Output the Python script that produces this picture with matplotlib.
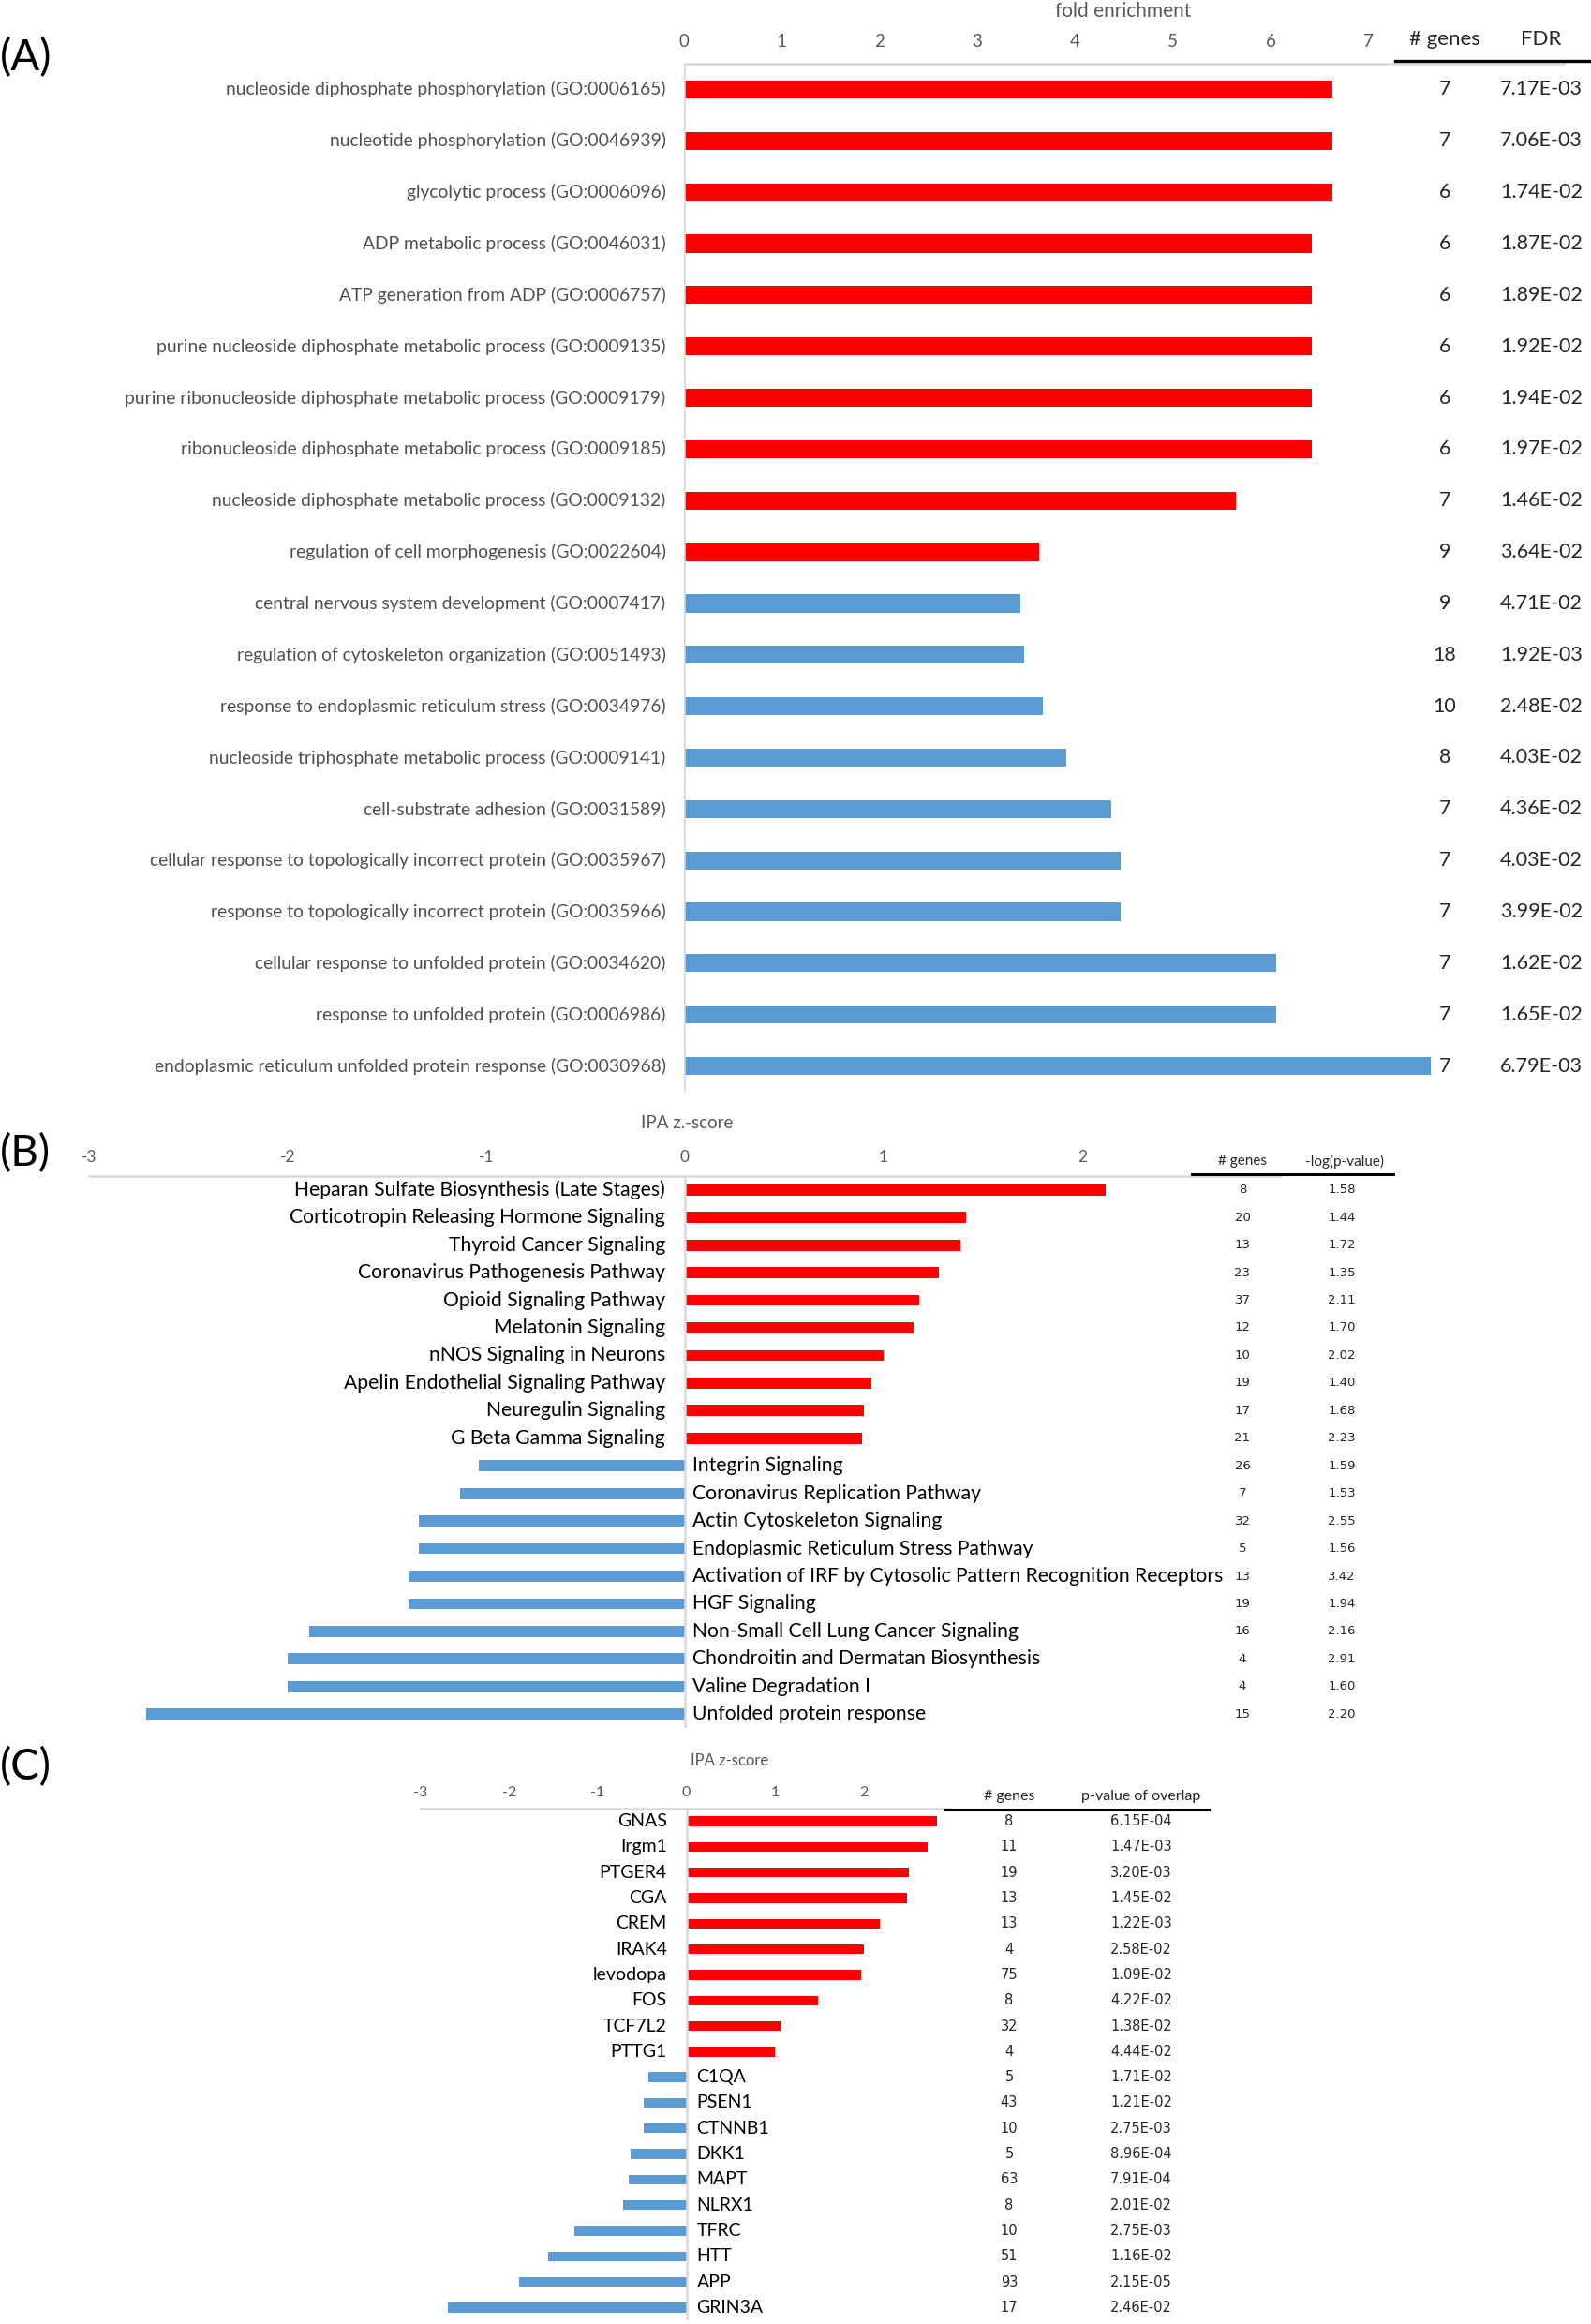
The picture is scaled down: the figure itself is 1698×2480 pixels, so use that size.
import matplotlib
matplotlib.use("Agg")
import matplotlib.pyplot as plt
from matplotlib.lines import Line2D
from matplotlib.transforms import blended_transform_factory

plt.rcParams['font.family'] = ['Lato', 'DejaVu Sans']

# --- Panel A: GO enrichment ---
a_terms = [
    "nucleoside diphosphate phosphorylation (GO:0006165)",
    "nucleotide phosphorylation (GO:0046939)",
    "glycolytic process (GO:0006096)",
    "ADP metabolic process (GO:0046031)",
    "ATP generation from ADP (GO:0006757)",
    "purine nucleoside diphosphate metabolic process (GO:0009135)",
    "purine ribonucleoside diphosphate metabolic process (GO:0009179)",
    "ribonucleoside diphosphate metabolic process (GO:0009185)",
    "nucleoside diphosphate metabolic process (GO:0009132)",
    "regulation of cell morphogenesis (GO:0022604)",
    "central nervous system development (GO:0007417)",
    "regulation of cytoskeleton organization (GO:0051493)",
    "response to endoplasmic reticulum stress (GO:0034976)",
    "nucleoside triphosphate metabolic process (GO:0009141)",
    "cell-substrate adhesion (GO:0031589)",
    "cellular response to topologically incorrect protein (GO:0035967)",
    "response to topologically incorrect protein (GO:0035966)",
    "cellular response to unfolded protein (GO:0034620)",
    "response to unfolded protein (GO:0006986)",
    "endoplasmic reticulum unfolded protein response (GO:0030968)",
]
a_fold = [6.63, 6.63, 6.63, 6.42, 6.42, 6.42, 6.42, 6.42, 5.65, 3.63,
          3.44, 3.48, 3.67, 3.91, 4.37, 4.47, 4.47, 6.06, 6.06, 7.64]
a_genes = [7, 7, 6, 6, 6, 6, 6, 6, 7, 9, 9, 18, 10, 8, 7, 7, 7, 7, 7, 7]
a_fdr = ["7.17E-03", "7.06E-03", "1.74E-02", "1.87E-02", "1.89E-02",
         "1.92E-02", "1.94E-02", "1.97E-02", "1.46E-02", "3.64E-02",
         "4.71E-02", "1.92E-03", "2.48E-02", "4.03E-02", "4.36E-02",
         "4.03E-02", "3.99E-02", "1.62E-02", "1.65E-02", "6.79E-03"]
a_dir = ["up"] * 10 + ["down"] * 10

# --- Panel B: IPA canonical pathways ---
b_paths = [
    "Heparan Sulfate Biosynthesis (Late Stages)",
    "Corticotropin Releasing Hormone Signaling",
    "Thyroid Cancer Signaling",
    "Coronavirus Pathogenesis Pathway",
    "Opioid Signaling Pathway",
    "Melatonin Signaling",
    "nNOS Signaling in Neurons",
    "Apelin Endothelial Signaling Pathway",
    "Neuregulin Signaling",
    "G Beta Gamma Signaling",
    "Integrin Signaling",
    "Coronavirus Replication Pathway",
    "Actin Cytoskeleton Signaling",
    "Endoplasmic Reticulum Stress Pathway",
    "Activation of IRF by Cytosolic Pattern Recognition Receptors",
    "HGF Signaling",
    "Non-Small Cell Lung Cancer Signaling",
    "Chondroitin and Dermatan Biosynthesis",
    "Valine Degradation I",
    "Unfolded protein response",
]
b_z = [2.12, 1.415, 1.386, 1.276, 1.18, 1.15, 1.0, 0.94, 0.90, 0.89,
       -1.04, -1.13, -1.34, -1.34, -1.39, -1.39, -1.89, -2.0, -2.0, -2.71]
b_genes = [8, 20, 13, 23, 37, 12, 10, 19, 17, 21,
           26, 7, 32, 5, 13, 19, 16, 4, 4, 15]
b_logp = ["1.58", "1.44", "1.72", "1.35", "2.11", "1.70", "2.02", "1.40", "1.68", "2.23",
          "1.59", "1.53", "2.55", "1.56", "3.42", "1.94", "2.16", "2.91", "1.60", "2.20"]

# --- Panel C: upstream regulators ---
c_regs = ["GNAS", "Irgm1", "PTGER4", "CGA", "CREM", "IRAK4", "levodopa", "FOS",
          "TCF7L2", "PTTG1", "C1QA", "PSEN1", "CTNNB1", "DKK1", "MAPT", "NLRX1",
          "TFRC", "HTT", "APP", "GRIN3A"]
c_z = [2.83, 2.72, 2.51, 2.49, 2.18, 2.00, 1.97, 1.49, 1.06, 1.00,
       -0.43, -0.48, -0.48, -0.63, -0.65, -0.71, -1.26, -1.56, -1.89, -2.69]
c_genes = [8, 11, 19, 13, 13, 4, 75, 8, 32, 4, 5, 43, 10, 5, 63, 8, 10, 51, 93, 17]
c_pval = ["6.15E-04", "1.47E-03", "3.20E-03", "1.45E-02", "1.22E-03", "2.58E-02",
          "1.09E-02", "4.22E-02", "1.38E-02", "4.44E-02", "1.71E-02", "1.21E-02",
          "2.75E-03", "8.96E-04", "7.91E-04", "2.01E-02", "2.75E-03", "1.16E-02",
          "2.15E-05", "2.46E-02"]

RED = "#FF0000"
BLUE = "#5B9BD5"
GRID = "#D9D9D9"
GREY_TXT = "#595959"

W, H = 1699, 2480
fig = plt.figure(figsize=(W / 100, H / 100), dpi=100)


def px_axes(left, top, right, bottom):
    return fig.add_axes([left / W, 1 - bottom / H, (right - left) / W, (bottom - top) / H])


def ftext(x, y, s, **kw):
    return fig.text(x / W, 1 - y / H, s, **kw)


def hline(x0, x1, y, lw=2.2, color="black"):
    fig.add_artist(Line2D([x0 / W, x1 / W], [1 - y / H, 1 - y / H],
                          transform=fig.transFigure, color=color, lw=lw))


def style_axis(ax, xlim, ticks, tick_size, pad):
    ax.set_xlim(*xlim)
    ax.set_ylim(19.5, -0.5)
    ax.xaxis.set_ticks_position("top")
    ax.set_xticks(ticks)
    ax.set_xticklabels([str(t) for t in ticks])
    ax.tick_params(axis="x", length=0, pad=pad, labelsize=tick_size, labelcolor=GREY_TXT)
    ax.set_yticks([])
    for s in ["right", "bottom", "left"]:
        ax.spines[s].set_visible(False)
    ax.spines["top"].set_color(GRID)
    ax.spines["top"].set_linewidth(1.8)
    ax.patch.set_alpha(0)


# ---------------- Panel A ----------------
axA = px_axes(730, 68, 1669, 1165)
ya = list(range(len(a_terms)))
colA = [RED if d == "up" else BLUE for d in a_dir]
axA.barh(ya, a_fold, height=0.35, color=colA)
style_axis(axA, (0, 9), list(range(0, 8)), 13.5, 11)
axA.axvline(0, color=GRID, lw=1.8)
for i, t in enumerate(a_terms):
    axA.annotate(t, xy=(0, i), xytext=(-14, 0), textcoords="offset points",
                 ha="right", va="center", fontsize=13.9, color="#505050")
trA = blended_transform_factory(fig.transFigure, axA.transData)
for i in ya:
    axA.text(1542 / W, i, str(a_genes[i]), transform=trA, ha="center", va="center",
             fontsize=15.5, color="#262626")
    axA.text(1645 / W, i, a_fdr[i], transform=trA, ha="center", va="center",
             fontsize=15.5, color="#262626")
ftext(1199, 12, "fold enrichment", ha="center", va="center", fontsize=15, color=GREY_TXT)
ftext(1542, 42, "# genes", ha="center", va="center", fontsize=16, color="#262626")
ftext(1645, 42, "FDR", ha="center", va="center", fontsize=16, color="#262626")
hline(1489, 1699, 65, lw=2.4)
ftext(0, 62, "(A)", ha="left", va="center", fontsize=33)

# ---------------- Panel B ----------------
axB = px_axes(731 - 3 * 212, 1255, 731 + 3 * 212, 1844)
yb = list(range(len(b_paths)))
colB = [RED if v > 0 else BLUE for v in b_z]
axB.barh(yb, b_z, height=0.4, color=colB)
style_axis(axB, (-3, 3), [-3, -2, -1, 0, 1, 2], 12.5, 9)
axB.axvline(0, color=GRID, lw=1.8)
for i, (p, v) in enumerate(zip(b_paths, b_z)):
    if v > 0:
        axB.annotate(p, xy=(0, i), xytext=(-15, 0), textcoords="offset points",
                     ha="right", va="center", fontsize=15.2, color="black")
    else:
        axB.annotate(p, xy=(0, i), xytext=(6, 0), textcoords="offset points",
                     ha="left", va="center", fontsize=15.2, color="black")
trB = blended_transform_factory(fig.transFigure, axB.transData)
for i in yb:
    axB.text(1326 / W, i, str(b_genes[i]), transform=trB, ha="center", va="center",
             fontsize=9.5, color="#262626", family="DejaVu Sans")
    axB.text(1432 / W, i, b_logp[i], transform=trB, ha="center", va="center",
             fontsize=9.5, color="#262626", family="DejaVu Sans")
ftext(733, 1198, "IPA z.-score", ha="center", va="center", fontsize=13.5, color=GREY_TXT)
ftext(1326, 1239, "# genes", ha="center", va="center", fontsize=11, color="#262626")
ftext(1435, 1239, "-log(p-value)", ha="center", va="center", fontsize=11, color="#262626")
hline(1272, 1487, 1253, lw=2.2)
ftext(0, 1231, "(B)", ha="left", va="center", fontsize=33)

# ---------------- Panel C ----------------
axC = px_axes(732.5 - 3 * 94.6, 1930, 732.5 + 3 * 94.6, 2476)
yc = list(range(len(c_regs)))
colC = [RED if v > 0 else BLUE for v in c_z]
axC.barh(yc, c_z, height=0.38, color=colC)
style_axis(axC, (-3, 3), [-3, -2, -1, 0, 1, 2], 11.5, 7)
axC.axvline(0, color=GRID, lw=1.8)
for i, (g, v) in enumerate(zip(c_regs, c_z)):
    if v > 0:
        axC.annotate(g, xy=(0, i), xytext=(-15, 0), textcoords="offset points",
                     ha="right", va="center", fontsize=14, color="black")
    else:
        axC.annotate(g, xy=(0, i), xytext=(8, 0), textcoords="offset points",
                     ha="left", va="center", fontsize=14, color="black")
trC = blended_transform_factory(fig.transFigure, axC.transData)
for i in yc:
    axC.text(1077 / W, i, str(c_genes[i]), transform=trC, ha="center", va="center",
             fontsize=10.5, color="#262626", family="DejaVu Sans")
    axC.text(1218 / W, i, c_pval[i], transform=trC, ha="center", va="center",
             fontsize=10.5, color="#262626", family="DejaVu Sans")
ftext(779, 1879, "IPA z-score", ha="center", va="center", fontsize=12, color=GREY_TXT)
ftext(1077, 1917, "# genes", ha="center", va="center", fontsize=11.5, color="#262626")
ftext(1218, 1917, "p-value of overlap", ha="center", va="center", fontsize=11.5, color="#262626")
hline(1008, 1290, 1931, lw=2.2)
ftext(0, 1886, "(C)", ha="left", va="center", fontsize=33)

fig.savefig("out.png", dpi=100)
